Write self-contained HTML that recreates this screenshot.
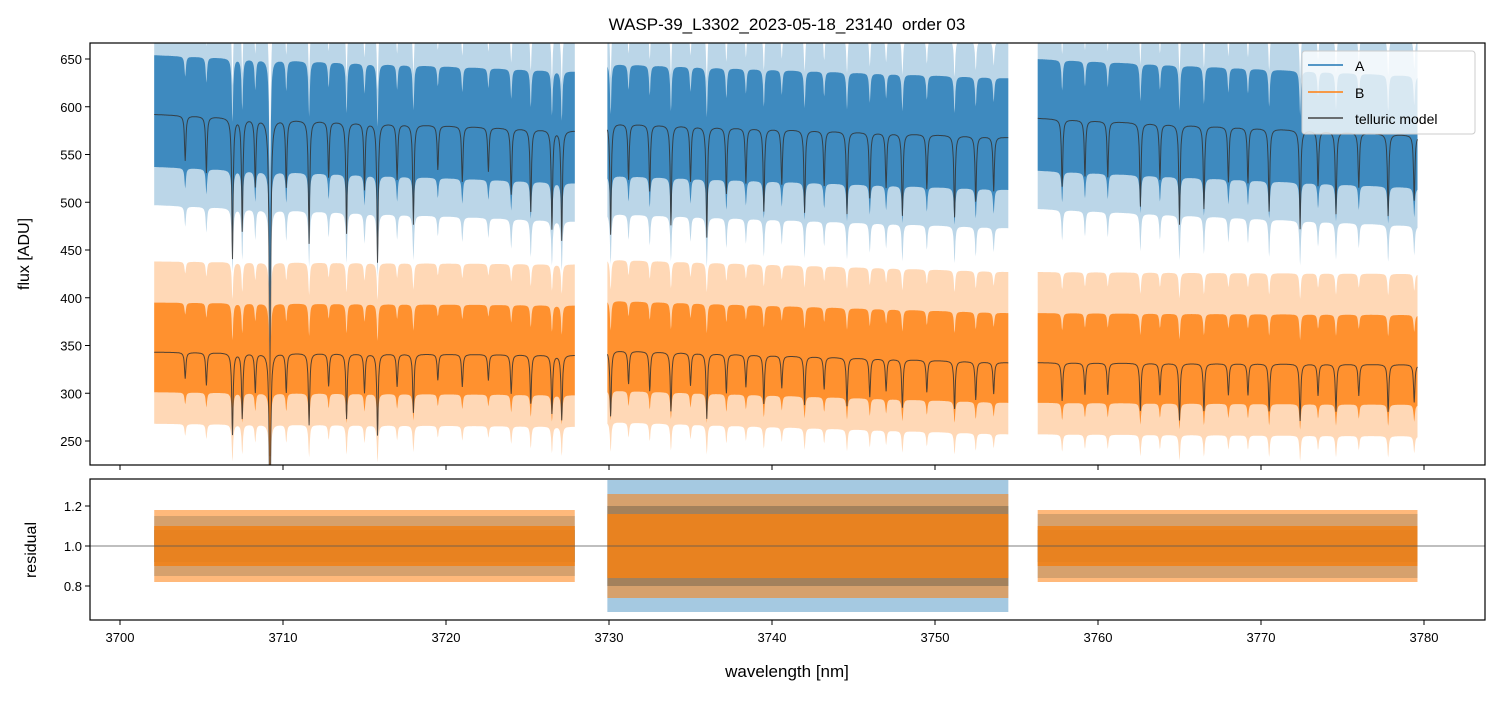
<!DOCTYPE html>
<html><head><meta charset="utf-8"><style>
body{margin:0;background:#fff;}
svg text{font-family:"Liberation Sans","DejaVu Sans",sans-serif;fill:#000;}
</style></head><body>
<svg id="chart" width="1499" height="696" xmlns="http://www.w3.org/2000/svg">
<rect width="1499" height="696" fill="#fff"/>
<text x="787" y="30" font-size="17" text-anchor="middle" style="white-space:pre">WASP-39_L3302_2023-05-18_23140  order 03</text>
<defs>
<clipPath id="ctop"><rect x="90" y="43" width="1395" height="422"/></clipPath>
<clipPath id="cbot"><rect x="90" y="479" width="1395" height="141"/></clipPath>
</defs>
<g id="gtop" clip-path="url(#ctop)"></g>
<g id="gbot" clip-path="url(#cbot)"></g>
<g id="gaxes"></g>
<text transform="translate(29,254) rotate(-90)" font-size="16" text-anchor="middle">flux [ADU]</text>
<text transform="translate(36,550) rotate(-90)" font-size="16" text-anchor="middle">residual</text>
<text x="787" y="677" font-size="17" text-anchor="middle">wavelength [nm]</text>
<g>
<rect x="1302" y="51" width="173" height="83" rx="3" fill="#fff" fill-opacity="0.8" stroke="#ccc"/>
<g><line x1="1308" y1="65" x2="1343" y2="65" stroke="#1f77b4" stroke-width="1.5"/><text x="1355" y="71" font-size="14">A</text></g>
<g><line x1="1308" y1="92" x2="1343" y2="92" stroke="#ff7f0e" stroke-width="1.5"/><text x="1355" y="98" font-size="14">B</text></g>
<g><line x1="1308" y1="118" x2="1343" y2="118" stroke="#444" stroke-width="1.5"/><text x="1355" y="124" font-size="14">telluric model</text></g>
</g>
</svg>
<script>
const segStart=[3702.1,3729.9,3756.3];
const segEnd=[3727.9,3754.5,3779.6];
const contA0=[592,583,588];
const contA1=[575,568,570];
const contB0=[343,345,332];
const contB1=[340,332,330];
const lineWl=[3704.0,3705.3,3706.9,3707.5,3708.3,3709.2,3710.2,3711.6,3712.8,3713.9,3715.0,3715.8,3717.0,3718.0,3719.5,3721.0,3722.6,3724.0,3725.2,3726.5,3727.1,3730.1,3731.2,3732.5,3733.8,3735.0,3736.0,3737.2,3738.4,3739.5,3740.6,3742.0,3743.2,3744.6,3746.0,3747.0,3748.0,3749.5,3751.2,3752.5,3753.6,3757.8,3759.2,3760.6,3762.6,3763.8,3765.0,3766.5,3768.0,3769.2,3770.5,3772.4,3773.5,3774.6,3776.0,3777.8,3779.4];
const lineDepth=[0.08,0.1,0.25,0.2,0.12,0.6,0.12,0.22,0.1,0.2,0.12,0.25,0.1,0.18,0.08,0.1,0.08,0.12,0.15,0.18,0.2,0.2,0.1,0.12,0.18,0.1,0.2,0.12,0.1,0.15,0.1,0.15,0.1,0.15,0.12,0.1,0.15,0.1,0.15,0.12,0.1,0.12,0.1,0.1,0.15,0.1,0.18,0.15,0.1,0.1,0.15,0.18,0.1,0.15,0.1,0.15,0.12];
const resAInner=[0.08,0.2,0.08];
const resAOuter=[0.15,0.33,0.16];
const resBInner=[0.1,0.16,0.1];
const resBOuter=[0.18,0.26,0.18];
const xTicks=[3700,3710,3720,3730,3740,3750,3760,3770,3780];
const yTicks=[250,300,350,400,450,500,550,600,650];
const rTicks=[0.8,1.0,1.2];
(function(){
const NS="http://www.w3.org/2000/svg";
const X=w=>120+(w-3700)*16.3;
const YT=v=>59+(650-v)*0.955;
const YB=v=>546-(v-1)*200;
function mk(tag,attrs,parent){const e=document.createElementNS(NS,tag);for(const k in attrs)e.setAttribute(k,attrs[k]);parent.appendChild(e);return e;}
function trans(w){let t=1;for(let i=0;i<lineWl.length;i++){const d=(w-lineWl[i])/0.05;t-=lineDepth[i]/(1+d*d);}return Math.max(t,0);}
const gTop=document.getElementById('gtop'),gBot=document.getElementById('gbot'),gAx=document.getElementById('gaxes');
for(let s=0;s<segStart.length;s++){
  const pts=[];
  for(let w=segStart[s];w<=segEnd[s]+1e-6;w+=0.02){const f=(w-segStart[s])/(segEnd[s]-segStart[s]);pts.push([w,trans(w),f]);}
  [['a',contA0,contA1,'#1f77b4',[55,62],[95,100]],['b',contB0,contB1,'#ff7f0e',[42,52],[75,95]]].forEach(([n,c0,c1,col,inner,outer])=>{
    const cont=pts.map(p=>c0[s]+(c1[s]-c0[s])*p[2]);
    const model=pts.map((p,i)=>[p[0],cont[i]*p[1]]);
    const soft=pts.map((p,i)=>cont[i]*(0.55+0.45*p[1]));
    [[outer,0.3],[inner,0.8]].forEach(([wd,op])=>{
      const up=model.map((m,i)=>X(m[0]).toFixed(1)+','+YT(soft[i]+wd[1]).toFixed(1));
      const dn=model.map((m,i)=>X(m[0]).toFixed(1)+','+YT(soft[i]-wd[0]).toFixed(1)).reverse();
      const p=mk('polygon',{points:up.concat(dn).join(' '),fill:col,'fill-opacity':op},gTop);
      
      
    });
    const l=mk('polyline',{points:model.map(m=>X(m[0]).toFixed(1)+','+YT(m[1]).toFixed(1)).join(' '),fill:'none',stroke:'#333','stroke-opacity':0.85,'stroke-width':1},gTop);
    
    
  });
  const x0=X(segStart[s]),x1=X(segEnd[s]);
  [['a',resAOuter,0.4,'#1f77b4'],['a',resAInner,0.85,'#1f77b4'],['b',resBOuter,0.55,'#ff7f0e'],['b',resBInner,0.9,'#f0821a']].forEach(([n,r,op,col])=>{
    const rr=mk('rect',{x:x0,y:YB(1+r[s]),width:x1-x0,height:YB(1-r[s])-YB(1+r[s]),fill:col,'fill-opacity':op},gBot);
    
    
  });
}
const ref=mk('line',{x1:90,x2:1485,y1:YB(1),y2:YB(1),stroke:'#555','stroke-width':0.8},gBot);


[[43,422,'flux-axes-frame'],[479,141,'residual-axes-frame']].forEach(([y,h,n])=>{
  const r=mk('rect',{x:90,y:y,width:1395,height:h,fill:'none',stroke:'#000','stroke-width':1.2},gAx);
  
  
});
xTicks.forEach(v=>{const x=X(v);
  mk('line',{x1:x,x2:x,y1:465,y2:470,stroke:'#000'},gAx);
  mk('line',{x1:x,x2:x,y1:620,y2:625,stroke:'#000'},gAx);
  const t=mk('text',{x:x,y:642,'font-size':13,'text-anchor':'middle'},gAx);t.textContent=v;
  
  
});
yTicks.forEach(v=>{const y=YT(v);
  mk('line',{x1:85,x2:90,y1:y,y2:y,stroke:'#000'},gAx);
  const t=mk('text',{x:82,y:y+5,'font-size':13,'text-anchor':'end'},gAx);t.textContent=v;
  
  
});
rTicks.forEach(v=>{const y=YB(v);
  mk('line',{x1:85,x2:90,y1:y,y2:y,stroke:'#000'},gAx);
  const t=mk('text',{x:82,y:y+5,'font-size':13,'text-anchor':'end'},gAx);t.textContent=v.toFixed(1);
  
  
});
})();
</script>
</body></html>
